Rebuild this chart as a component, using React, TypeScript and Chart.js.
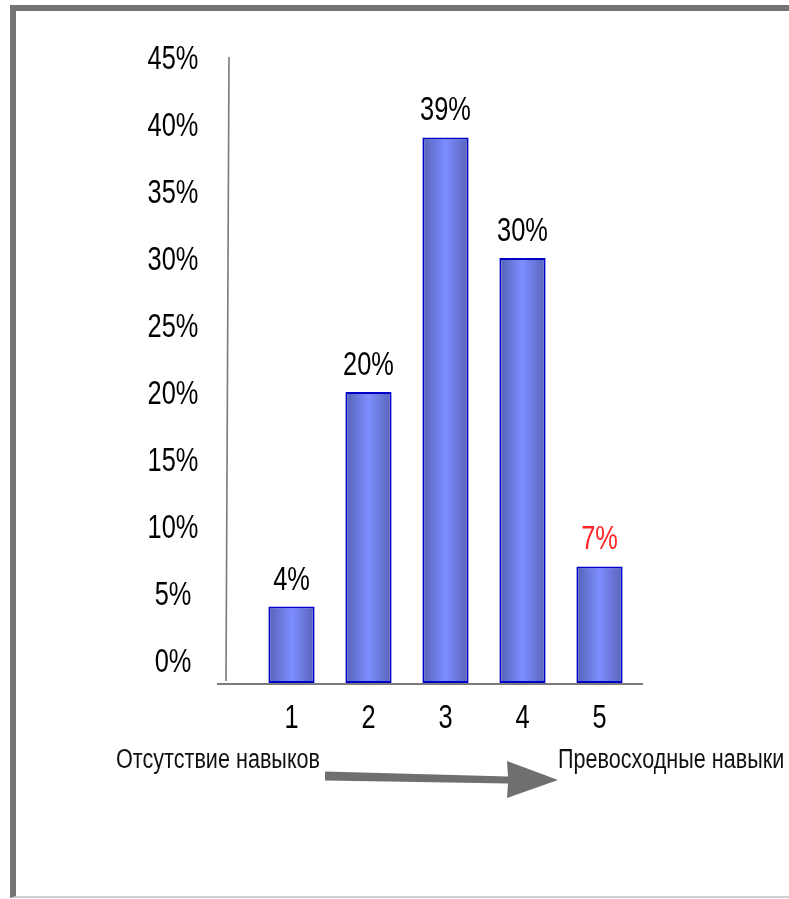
import React, { useEffect, useRef } from 'react';
import { Chart, registerables } from 'chart.js';

Chart.register(...registerables);

// Skill level ratings (1 = no skills, 5 = excellent skills) and their shares, %
const categories = ['1', '2', '3', '4', '5'];
const shares = [4, 20, 39, 30, 7];
const valueLabelColors = ['#000000', '#000000', '#000000', '#000000', '#ff2424'];
const yTickValues = [0, 5, 10, 15, 20, 25, 30, 35, 40, 45];
const axisFloor = -1.7;
const axisCeil = 45;
const leftCaption = 'Отсутствие навыков';
const rightCaption = 'Превосходные навыки';

const FONT = '"Liberation Sans", Arial, Helvetica, sans-serif';
const BAR_PCT = 0.6;

// condensed text: regular sans squeezed horizontally
function narrowText(
  ctx: CanvasRenderingContext2D,
  text: string,
  x: number,
  baseline: number,
  size: number,
  squeeze: number,
  align: CanvasTextAlign,
  color: string
) {
  ctx.save();
  ctx.translate(x, baseline);
  ctx.scale(squeeze, 1);
  ctx.font = `${size}px ${FONT}`;
  ctx.textAlign = align;
  ctx.textBaseline = 'alphabetic';
  ctx.fillStyle = color;
  ctx.fillText(text, 0, 0);
  ctx.restore();
}

function barGradient(ctx: CanvasRenderingContext2D, left: number, right: number) {
  const g = ctx.createLinearGradient(left, 0, right, 0);
  g.addColorStop(0, '#5561b6');
  g.addColorStop(0.5, '#7d8eff');
  g.addColorStop(1, '#5963b8');
  return g;
}

const LABEL_SIZE = 33;
const LABEL_SQUEEZE = 0.77;
const CAP_HALF = 12;

const decorPlugin = {
  id: 'decor',
  beforeDatasetsDraw(chart: any) {
    const { ctx, chartArea } = chart;
    // horizontal shading on every bar
    const meta = chart.getDatasetMeta(0);
    meta.data.forEach((bar: any) => {
      const half = bar.width / 2;
      if (!isFinite(bar.x) || !isFinite(half)) return;
      bar.options = Object.assign({}, bar.options, {
        backgroundColor: barGradient(ctx, bar.x - half, bar.x + half),
      });
    });

    ctx.save();
    ctx.strokeStyle = '#7a7a7a';
    // value axis line
    ctx.lineWidth = 1.6;
    ctx.beginPath();
    ctx.moveTo(chartArea.left - 24, chartArea.top);
    ctx.lineTo(chartArea.left - 27, chartArea.bottom - 2);
    ctx.stroke();
    // category axis line
    ctx.lineWidth = 2;
    ctx.beginPath();
    ctx.moveTo(chartArea.left - 36, chartArea.bottom + 1);
    ctx.lineTo(chartArea.right + 5, chartArea.bottom + 1);
    ctx.stroke();
    ctx.restore();

    // value axis tick labels
    const ys = chart.scales.y;
    ys.ticks.forEach((t: any) => {
      const py = ys.getPixelForValue(t.value);
      narrowText(ctx, `${t.value}%`, chartArea.left - 80, py + CAP_HALF, LABEL_SIZE, LABEL_SQUEEZE, 'center', '#000000');
    });
    // category axis tick labels
    const xs = chart.scales.x;
    xs.ticks.forEach((t: any, i: number) => {
      const px = xs.getPixelForTick(i);
      narrowText(ctx, xs.getLabelForValue(t.value), px, chartArea.bottom + 33 + CAP_HALF, LABEL_SIZE, LABEL_SQUEEZE, 'center', '#000000');
    });
  },
  afterDatasetsDraw(chart: any) {
    const { ctx } = chart;
    const meta = chart.getDatasetMeta(0);
    meta.data.forEach((bar: any, i: number) => {
      narrowText(ctx, `${shares[i]}%`, bar.x, bar.y - 29 + CAP_HALF, LABEL_SIZE, LABEL_SQUEEZE, 'center', valueLabelColors[i]);
    });
  },
  afterDraw(chart: any) {
    const { ctx } = chart;
    ctx.save();
    // direction arrow from "no skills" to "excellent skills"
    ctx.fillStyle = '#6f6f6f';
    ctx.beginPath();
    ctx.moveTo(325, 771.5);
    ctx.lineTo(508, 776.5);
    ctx.lineTo(507, 761);
    ctx.lineTo(558, 780);
    ctx.lineTo(507, 798);
    ctx.lineTo(508, 783.5);
    ctx.lineTo(325, 780.5);
    ctx.closePath();
    ctx.fill();
    ctx.restore();
    // captions at both ends of the scale
    narrowText(ctx, leftCaption, 116, 768, 27, 0.8, 'left', '#111111');
    narrowText(ctx, rightCaption, 558, 768, 27, 0.8, 'left', '#111111');
  },
};

export default function App() {
  const canvasRef = useRef<HTMLCanvasElement>(null);

  useEffect(() => {
    const canvas = canvasRef.current;
    if (!canvas) return;
    const chart = new Chart(canvas, {
      type: 'bar',
      data: {
        labels: categories,
        datasets: [
          {
            data: shares,
            base: axisFloor,
            backgroundColor: '#6b7be0',
            borderColor: '#0000c8',
            borderWidth: 2,
            borderSkipped: false,
            barPercentage: BAR_PCT,
            categoryPercentage: 1,
          } as any,
        ],
      },
      options: {
        responsive: false,
        animation: false,
        devicePixelRatio: 1,
        layout: { padding: { left: 148, right: 151, top: 57, bottom: 156 } },
        plugins: {
          legend: { display: false },
          tooltip: { enabled: false },
          title: { display: false },
        },
        scales: {
          x: {
            type: 'category',
            offset: true,
            grid: { display: false, drawTicks: false },
            border: { display: false },
            ticks: { display: false },
            afterFit: (s: any) => {
              s.height = 60;
            },
          },
          y: {
            type: 'linear',
            min: axisFloor,
            max: axisCeil,
            grid: { display: false, drawTicks: false },
            border: { display: false },
            afterBuildTicks: (s: any) => {
              s.ticks = yTickValues.map((v) => ({ value: v }));
            },
            ticks: { display: false },
            afterFit: (s: any) => {
              s.width = 105;
            },
          },
        },
      } as any,
      plugins: [decorPlugin],
    });
    return () => chart.destroy();
  }, []);

  return (
    <div
      style={{
        position: 'fixed',
        left: 0,
        top: 0,
        width: 789,
        height: 899,
        overflow: 'hidden',
        background: '#ffffff',
      }}
    >
      <div
        style={{
          position: 'absolute',
          left: 10,
          top: 5,
          width: 820,
          height: 893,
          boxSizing: 'border-box',
          borderTop: '6px solid #747474',
          borderLeft: '6px solid #747474',
          borderBottom: '2px solid #cfcfcf',
        }}
      />
      <canvas
        ref={canvasRef}
        width={789}
        height={899}
        style={{ position: 'absolute', left: 0, top: 0, display: 'block' }}
      />
    </div>
  );
}
